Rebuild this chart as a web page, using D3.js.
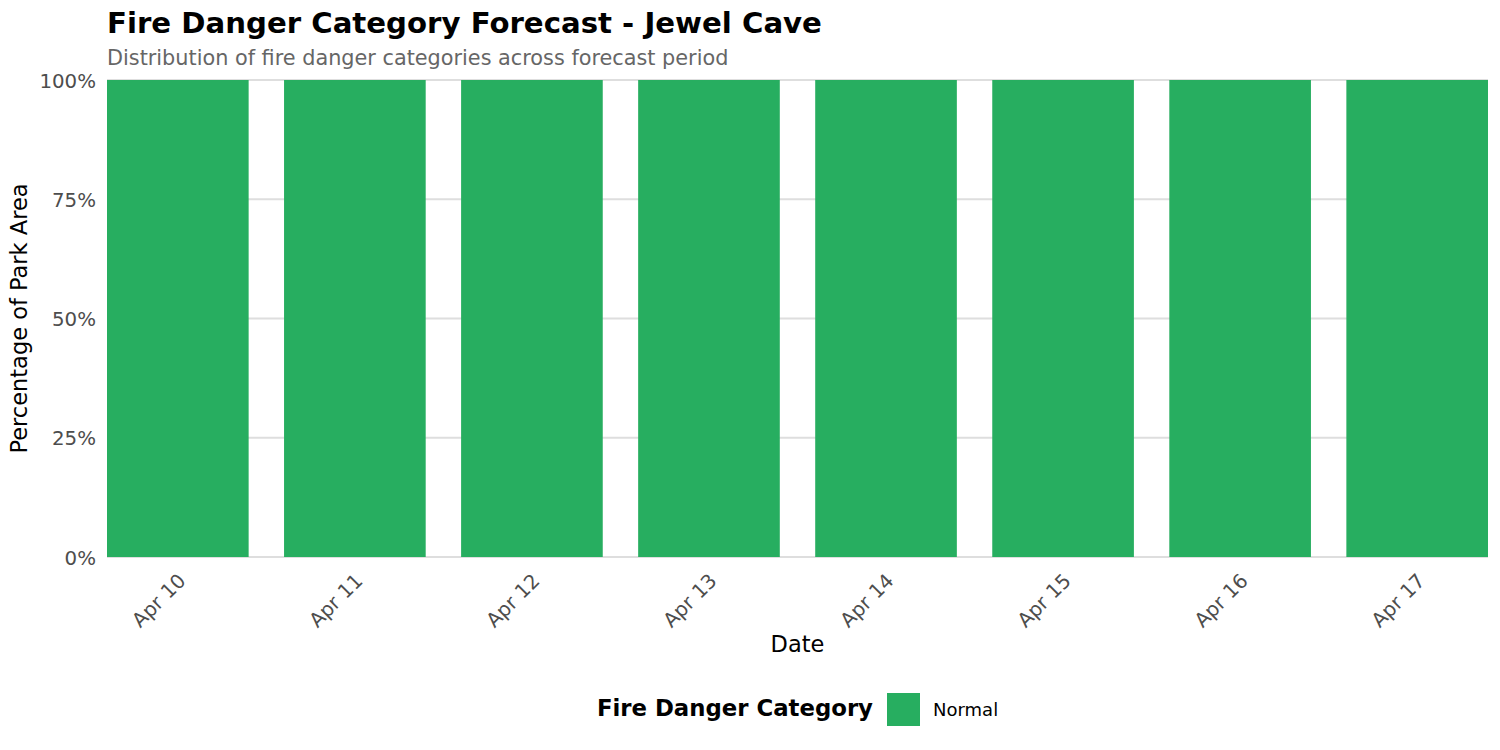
<!DOCTYPE html>
<html>
<head>
<meta charset="utf-8">
<script src="https://cdn.jsdelivr.net/npm/d3@7"></script>
<style>
  body { margin: 0; background: #fff; }
  text { font-family: "DejaVu Sans", sans-serif; }
</style>
</head>
<body>
<svg id="chart" width="1500" height="750"></svg>
<script>
// Forecast dates and the share of park area per danger category
var dates = ["Apr 10", "Apr 11", "Apr 12", "Apr 13", "Apr 14", "Apr 15", "Apr 16", "Apr 17"];
var categories = ["Normal"];
var normalShare = [1, 1, 1, 1, 1, 1, 1, 1];
var categoryColors = ["#27ae60"];
var yTicks = [0, 0.25, 0.5, 0.75, 1];

var svg = d3.select("#chart");

// Panel bounds (not called "top" - that clashes with window.top)
var panel = { left: 107, right: 1488, top: 80, bottom: 557 };

var x = d3.scaleBand()
    .domain(dates)
    .range([panel.left, panel.right])
    .paddingInner(0.2)
    .paddingOuter(0);

var y = d3.scaleLinear()
    .domain([0, 1])
    .range([panel.bottom, panel.top]);

var color = d3.scaleOrdinal()
    .domain(categories)
    .range(categoryColors);

// Horizontal grid lines
svg.append("g")
    .selectAll("line")
    .data(yTicks)
    .enter()
    .append("line")
    .attr("x1", panel.left)
    .attr("x2", panel.right)
    .attr("y1", function (d) { return y(d); })
    .attr("y2", function (d) { return y(d); })
    .style("stroke", "#dedede")
    .style("stroke-width", 2);

// Stack the categories per date
var rows = dates.map(function (d, i) {
    return { date: d, Normal: normalShare[i] };
});
var stacked = d3.stack().keys(categories)(rows);

svg.append("g")
    .selectAll("g")
    .data(stacked)
    .enter()
    .append("g")
    .attr("fill", function (s) { return color(s.key); })
    .selectAll("rect")
    .data(function (s) { return s; })
    .enter()
    .append("rect")
    .attr("x", function (d) { return x(d.data.date); })
    .attr("width", x.bandwidth())
    .attr("y", function (d) { return y(d[1]); })
    .attr("height", function (d) { return y(d[0]) - y(d[1]); });

// Y axis labels
var yAxis = svg.append("g")
    .attr("transform", "translate(" + (panel.left - 11) + ",0)")
    .call(d3.axisLeft(y).tickValues(yTicks).tickFormat(d3.format(".0%")).tickSize(0));
yAxis.select(".domain").remove();
yAxis.selectAll("text")
    .attr("x", 0)
    .attr("dy", "0.36em")
    .style("font-size", "19.8px")
    .style("fill", "#4d4d4d")
    .style("font-family", "DejaVu Sans, sans-serif");

// X axis labels, rotated 45 degrees
var xAxis = svg.append("g")
    .attr("transform", "translate(0," + panel.bottom + ")")
    .call(d3.axisBottom(x).tickSize(0));
xAxis.select(".domain").remove();
xAxis.selectAll("text")
    .attr("x", 0)
    .attr("y", 0)
    .attr("dy", 0)
    .attr("transform", "translate(9,25) rotate(-45)")
    .style("text-anchor", "end")
    .style("font-size", "19.8px")
    .style("fill", "#4d4d4d")
    .style("font-family", "DejaVu Sans, sans-serif");

// Titles
svg.append("text")
    .attr("x", panel.left)
    .attr("y", 33)
    .style("font-size", "29.2px")
    .style("font-weight", "bold")
    .style("fill", "#000")
    .text("Fire Danger Category Forecast - Jewel Cave");

svg.append("text")
    .attr("x", panel.left)
    .attr("y", 65)
    .style("font-size", "20.8px")
    .style("fill", "#666666")
    .text("Distribution of fire danger categories across forecast period");

svg.append("text")
    .attr("x", (panel.left + panel.right) / 2)
    .attr("y", 652)
    .attr("text-anchor", "middle")
    .style("font-size", "22.5px")
    .style("fill", "#000")
    .text("Date");

svg.append("text")
    .attr("transform", "translate(27," + ((panel.top + panel.bottom) / 2) + ") rotate(-90)")
    .attr("text-anchor", "middle")
    .style("font-size", "22.5px")
    .style("fill", "#000")
    .text("Percentage of Park Area");

// Legend
var legend = svg.append("g");
legend.append("text")
    .attr("x", 873)
    .attr("y", 716)
    .attr("text-anchor", "end")
    .style("font-size", "22.8px")
    .style("font-weight", "bold")
    .style("fill", "#000")
    .text("Fire Danger Category");

var items = legend.selectAll(".item")
    .data(categories)
    .enter()
    .append("g")
    .attr("class", "item");
items.append("rect")
    .attr("x", 887)
    .attr("y", 693)
    .attr("width", 33)
    .attr("height", 33)
    .attr("fill", function (d) { return color(d); });
items.append("text")
    .attr("x", 933)
    .attr("y", 716)
    .style("font-size", "18px")
    .style("fill", "#000")
    .text(function (d) { return d; });
</script>
</body>
</html>
